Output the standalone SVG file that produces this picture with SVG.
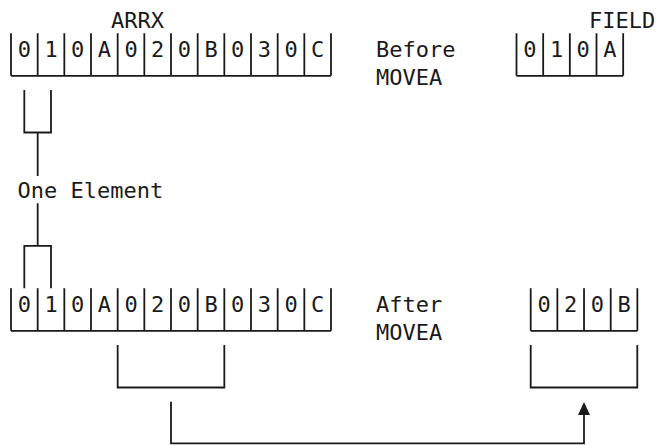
<svg xmlns="http://www.w3.org/2000/svg" width="660" height="445" viewBox="0 0 660 445">
<style>
  text { font-family: "DejaVu Sans Mono", "Liberation Mono", monospace; font-size: 22px; fill: #1a1a1a; }
  .c { text-anchor: middle; }
  .ln { fill: none; stroke: #1a1a1a; stroke-width: 1.8; }
</style>
<defs>
  <g id="bars12">
    <path class="ln" d="M11,33.3 V75.8 M37.67,33.3 V75.8 M64.33,33.3 V75.8 M91,33.3 V75.8 M117.67,33.3 V75.8 M144.33,33.3 V75.8 M171,33.3 V75.8 M197.67,33.3 V75.8 M224.33,33.3 V75.8 M251,33.3 V75.8 M277.67,33.3 V75.8 M304.33,33.3 V75.8 M331,33.3 V75.8 M11,75.8 H331"/>
  </g>
  <g id="bars4">
    <path class="ln" d="M0,33.3 V75.8 M26.67,33.3 V75.8 M53.33,33.3 V75.8 M80,33.3 V75.8 M106.67,33.3 V75.8 M0,75.8 H106.67"/>
  </g>
</defs>
<g id="arrx-before">
  <text x="111" y="28.3">ARRX</text>
  <use href="#bars12"/>
  <text class="c" y="56.7"><tspan x="24.3">0</tspan><tspan x="51">1</tspan><tspan x="77.7">0</tspan><tspan x="104.3">A</tspan><tspan x="131">0</tspan><tspan x="157.7">2</tspan><tspan x="184.3">0</tspan><tspan x="211">B</tspan><tspan x="237.7">0</tspan><tspan x="264.3">3</tspan><tspan x="291">0</tspan><tspan x="317.7">C</tspan></text>
</g>
<g id="label-before">
  <text x="376" y="56.7">Before</text>
  <text x="376" y="85">MOVEA</text>
</g>
<g id="field-before">
  <text x="589" y="28.3">FIELD</text>
  <use href="#bars4" transform="translate(516.5,0)"/>
  <text class="c" y="56.7"><tspan x="529.8">0</tspan><tspan x="556.5">1</tspan><tspan x="583.2">0</tspan><tspan x="609.8">A</tspan></text>
</g>
<g id="one-element">
  <text x="17.5" y="198.3">One Element</text>
</g>
<g id="arrx-after">
  <use href="#bars12" transform="translate(0,255)"/>
  <text class="c" y="311.7"><tspan x="24.3">0</tspan><tspan x="51">1</tspan><tspan x="77.7">0</tspan><tspan x="104.3">A</tspan><tspan x="131">0</tspan><tspan x="157.7">2</tspan><tspan x="184.3">0</tspan><tspan x="211">B</tspan><tspan x="237.7">0</tspan><tspan x="264.3">3</tspan><tspan x="291">0</tspan><tspan x="317.7">C</tspan></text>
</g>
<g id="label-after">
  <text x="376" y="311.7">After</text>
  <text x="376" y="340">MOVEA</text>
</g>
<g id="field-after">
  <use href="#bars4" transform="translate(530.7,255)"/>
  <text class="c" y="311.7"><tspan x="544">0</tspan><tspan x="570.7">2</tspan><tspan x="597.3">0</tspan><tspan x="624">B</tspan></text>
</g>
<g id="connectors">
  <path class="ln" d="M24.3,90 V132.5 H51 V90 M37.67,132.5 V176"/>
  <path class="ln" d="M37.67,203.3 V245.8 M24.3,288.3 V245.8 H51 V288.3"/>
  <path class="ln" d="M117.67,345 V387.5 H224.33 V345"/>
  <path class="ln" d="M530.7,345 V387.5 H637.3 V345"/>
  <path class="ln" d="M171,401.7 V443.3 H584 V413"/>
  <polygon points="584,402 590,415 578,415" fill="#1a1a1a"/>
</g>
</svg>
